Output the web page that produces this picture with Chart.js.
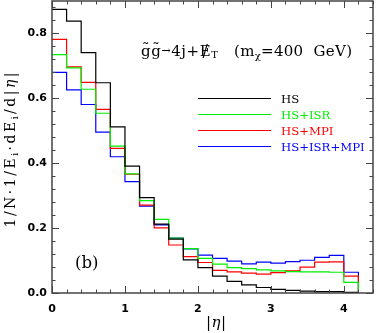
<!DOCTYPE html>
<html>
<head>
<meta charset="utf-8">
<script src="https://cdn.jsdelivr.net/npm/chart.js@4.4.1/dist/chart.umd.min.js"></script>
<style>
html,body{margin:0;padding:0;background:#fff;}
</style>
</head>
<body>
<canvas id="c" width="382" height="333"></canvas>
<script>
// bin edges in |eta| (last value closes the last bin)
let binEdges = [0,0.2,0.4,0.6,0.8,1.0,1.2,1.4,1.6,1.8,2.0,2.2,2.4,2.6,2.8,3.0,3.2,3.4,3.6,3.8,4.0,4.2];

let hs     = [0.874,0.838,0.741,0.648,0.512,0.391,0.294,0.212,0.166,0.102,0.078,0.052,0.036,0.025,0.017,0.011,0.008,0.006,0.004,0.004,0.002];
let hsIsr  = [0.735,0.694,0.628,0.554,0.453,0.367,0.285,0.227,0.169,0.137,0.107,0.089,0.078,0.075,0.071,0.068,0.066,0.065,0.065,0.064,0.033];
let hsMpi  = [0.782,0.697,0.649,0.566,0.446,0.366,0.271,0.201,0.148,0.112,0.094,0.070,0.065,0.061,0.058,0.063,0.068,0.080,0.095,0.096,0.052];
let hsAll  = [0.680,0.626,0.581,0.496,0.420,0.343,0.268,0.210,0.169,0.136,0.117,0.107,0.098,0.090,0.095,0.092,0.097,0.101,0.110,0.116,0.064];

let seriesNames = ["HS","HS+ISR","HS+MPI","HS+ISR+MPI"];
let seriesColors = ["#000000","#00ee00","#ff0000","#0000ff"];

let xTicks = [0,1,2,3,4];
let yTicks = [0,0.2,0.4,0.6,0.8];

function histPoints(vals){
  let pts = [];
  for(let i = 0; i < vals.length; i++){
    pts.push({x: binEdges[i], y: vals[i]});
  }
  pts.push({x: binEdges[vals.length], y: 0});
  return pts;
}

let allSeries = [hs, hsIsr, hsMpi, hsAll];

let datasets = allSeries.map(function(vals, i){
  return {
    label: seriesNames[i],
    data: histPoints(vals),
    borderColor: seriesColors[i],
    borderWidth: 1.2,
    stepped: true,
    pointRadius: 0,
    fill: false
  };
});

const SERIF = '"DejaVu Serif", serif';

// draw a list of text runs side by side, optional letter spacing and overlays
function drawRuns(ctx, runs, x, y, ls){
  ls = ls || 0;
  let cx = x;
  for(const r of runs){
    ctx.font = r.font;
    let start = cx;
    for(const ch of r.t){
      ctx.fillText(ch, cx, y + (r.dy || 0));
      cx += ctx.measureText(ch).width + ls;
    }
    if(r.over){
      let w = cx - start - ls;
      ctx.font = r.overFont || r.font;
      let ow = ctx.measureText(r.over).width;
      ctx.fillText(r.over, start + (w - ow)/2, y + (r.overDy || 0));
    }
  }
  return cx - x - ls;
}

function runsWidth(ctx, runs, ls){
  ls = ls || 0;
  let w = 0;
  for(const r of runs){
    ctx.font = r.font;
    for(const ch of r.t){ w += ctx.measureText(ch).width + ls; }
  }
  return w - ls;
}

let decor = {
  id: 'decor',
  afterDatasetsDraw(chart){
    let ctx = chart.ctx, a = chart.chartArea;
    let xs = chart.scales.x, ys = chart.scales.y;
    ctx.save();
    // frame
    ctx.strokeStyle = '#444';
    ctx.lineWidth = 1.5;
    ctx.strokeRect(a.left, a.top, a.right - a.left, a.bottom - a.top);
    // inward ticks on all sides
    ctx.lineWidth = 1;
    ctx.beginPath();
    for(let k = 0; k <= 22; k++){
      let v = k * 0.2;
      let len = (k % 5 === 0) ? 7 : 3.5;
      let px = Math.round(xs.getPixelForValue(v)) + 0.5;
      ctx.moveTo(px, a.bottom); ctx.lineTo(px, a.bottom - len);
      ctx.moveTo(px, a.top); ctx.lineTo(px, a.top + len);
    }
    for(let k = 0; k <= 22; k++){
      let v = k * 0.04;
      let len = (k % 5 === 0) ? 7 : 3.5;
      let py = Math.round(ys.getPixelForValue(v)) + 0.5;
      ctx.moveTo(a.left, py); ctx.lineTo(a.left + len, py);
      ctx.moveTo(a.right, py); ctx.lineTo(a.right - len, py);
    }
    ctx.stroke();

    ctx.fillStyle = '#000';
    ctx.textBaseline = 'alphabetic';
    // process label
    let f = '15px ' + SERIF, fs = '10px ' + SERIF;
    drawRuns(ctx, [
      {t:'g', font:f, over:'\u02DC', overDy:-2},
      {t:'g', font:f, over:'\u02DC', overDy:-2},
      {t:'\u2192', font:'11px ' + SERIF, dy:-2},
      {t:'4j+', font:f},
      {t:'E', font:f, over:'/', overFont:'16px ' + SERIF},
      {t:'T', font:fs, dy:2}
    ], 141, 56, 0.6);
    drawRuns(ctx, [
      {t:'(m', font:f},
      {t:'\u03C7', font:fs, dy:3},
      {t:'=400  GeV)', font:f}
    ], 234, 56, 0.3);

    // legend
    ctx.textBaseline = 'middle';
    ctx.font = '11.7px ' + SERIF;
    let legY = [98.5, 114.5, 130.5, 146.5];
    chart.data.datasets.forEach(function(ds, i){
      ctx.strokeStyle = ds.borderColor;
      ctx.lineWidth = 1.2;
      ctx.beginPath();
      ctx.moveTo(198, legY[i]); ctx.lineTo(271, legY[i]);
      ctx.stroke();
      ctx.fillStyle = ds.borderColor;
      ctx.fillText(ds.label, 281, legY[i] + 1);
    });

    // panel tag
    ctx.fillStyle = '#000';
    ctx.font = '16.5px ' + SERIF;
    ctx.textBaseline = 'alphabetic';
    ctx.fillText('(b)', 75, 268);

    // x axis title
    let xt = [
      {t:'|', font:'15px ' + SERIF},
      {t:'\u03B7', font:'italic 15px ' + SERIF},
      {t:'|', font:'15px ' + SERIF}
    ];
    let xw = runsWidth(ctx, xt, 0.5);
    drawRuns(ctx, xt, 216 - xw/2, 327, 0.5);

    // y axis title
    let yf = '14px ' + SERIF, ysf = '9px ' + SERIF;
    let yt = [
      {t:'1/N\u00B71/E', font:yf},
      {t:'i', font:ysf, dy:3},
      {t:'\u00B7dE', font:yf},
      {t:'i', font:ysf, dy:3},
      {t:'/d|', font:yf},
      {t:'\u03B7', font:'italic ' + yf},
      {t:'|', font:yf}
    ];
    let yw = runsWidth(ctx, yt, 2.5);
    ctx.translate(15, 150);
    ctx.rotate(-Math.PI/2);
    drawRuns(ctx, yt, -yw/2, 0, 2.5);
    ctx.restore();
  }
};

new Chart(document.getElementById('c'), {
  type: 'line',
  data: { datasets: datasets },
  options: {
    responsive: false,
    animation: false,
    devicePixelRatio: 1,
    layout: { padding: { top: 1, right: 9, left: 0, bottom: 0 } },
    plugins: { legend: { display: false }, tooltip: { enabled: false } },
    scales: {
      x: {
        type: 'linear',
        min: 0, max: 4.4,
        grid: { display: false, drawTicks: false },
        border: { display: false },
        afterBuildTicks: function(s){ s.ticks = xTicks.map(v => ({value: v})); },
        afterFit: function(s){ s.height = 40; s.paddingLeft = 0; s.paddingRight = 0; },
        ticks: {
          padding: 10,
          color: '#000',
          font: { family: '"DejaVu Sans"', size: 11, weight: 'bold' },
          callback: v => String(v)
        }
      },
      y: {
        min: 0, max: 0.9,
        grid: { display: false, drawTicks: false },
        border: { display: false },
        afterBuildTicks: function(s){ s.ticks = yTicks.map(v => ({value: v})); },
        afterFit: function(s){ s.width = 52; s.paddingTop = 0; s.paddingBottom = 0; },
        ticks: {
          padding: 5,
          color: '#000',
          font: { family: '"DejaVu Sans"', size: 11, weight: 'bold' },
          callback: v => v.toFixed(1)
        }
      }
    }
  },
  plugins: [decor]
});
</script>
</body>
</html>
